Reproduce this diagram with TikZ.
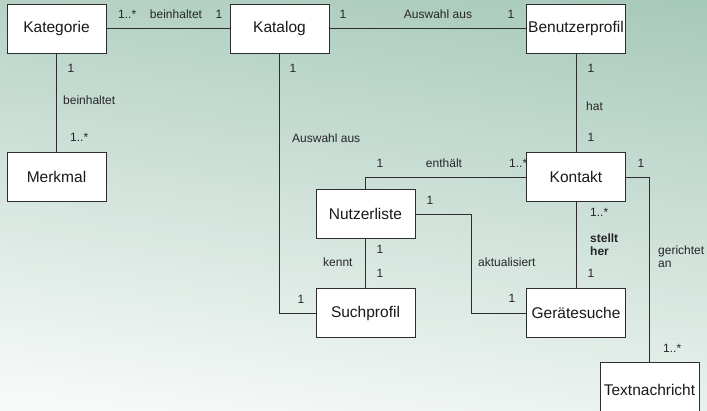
\documentclass[tikz,border=0pt]{standalone}
\usepackage{fontspec}
\setmainfont{Liberation Sans}
\usetikzlibrary{positioning}
\definecolor{bgtop}{RGB}{168,202,187}
\definecolor{bgbot}{RGB}{248,250,249}
\definecolor{edge}{RGB}{45,45,45}
\tikzset{
  cls/.style={draw=edge, line width=0.9pt, fill=white, minimum width=99pt, minimum height=49pt,
              inner sep=0pt, font=\fontsize{15.5}{17}\selectfont, text=black!90},
  assoc/.style={draw=edge, line width=0.9pt},
  lbl/.style={inner sep=0pt, font=\fontsize{12}{13}\selectfont, text=black!85},
  lblw/.style={lbl, anchor=west},
}
\begin{document}
\begin{tikzpicture}[x=1pt, y=-1pt]
  % background
  \useasboundingbox (0,0) rectangle (707,411);
  \shade[top color=bgtop, bottom color=bgbot, shading angle=-8] (-20,-20) rectangle (727,431);

  \begin{scope}
  \clip (0,0) rectangle (707,411);
  % classes
  \node[cls] (kat)  at (56.5,28.5)  {Kategorie};
  \node[cls] (katl) at (279.5,28.5) {Katalog};
  \node[cls] (bp)   at (576,28.5)   {Benutzerprofil};
  \node[cls] (mm)   at (56.5,177)   {Merkmal};
  \node[cls] (nl)   at (365.5,214)  {Nutzerliste};
  \node[cls] (sp)   at (365.5,313)  {Suchprofil};
  \node[cls] (ko)   at (576,177)    {Kontakt};
  \node[cls] (gs)   at (576,313)    {Gerätesuche};
  \node[cls, minimum height=56pt] (tn) at (649.5,390) {Textnachricht};

  % associations
  \coordinate (akt) at (471,214);
  \draw[assoc] (kat.east) -- (katl.west);
  \draw[assoc] (katl.east) -- (bp.west);
  \draw[assoc] (kat.south) -- (mm.north);
  \draw[assoc] (katl.south) |- (sp.west);
  \draw[assoc] (bp.south) -- (ko.north);
  \draw[assoc] (ko.west) -| (nl.north);
  \draw[assoc] (nl.south) -- (sp.north);
  \draw[assoc] (nl.east) -- (akt) |- (gs.west);
  \draw[assoc] (ko.south) -- (gs.north);
  \draw[assoc] (ko.east) -| (tn.north);
  \end{scope}

  % labels: Kategorie -- Katalog
  \node[lblw] (l1) at (118,14) {1..*};
  \node[lbl]  (l2) at (176,14) {beinhaltet};
  \node[lbl]  (l3) at (219,14) {1};
  % Katalog -- Benutzerprofil
  \node[lbl]  (l4) at (343,14) {1};
  \node[lbl]  (l5) at (438,14) {Auswahl aus};
  \node[lbl]  (l6) at (511,14) {1};
  % Kategorie -- Merkmal
  \node[lbl]  (l7) at (71,68) {1};
  \node[lblw] (l8) at (63,100) {beinhaltet};
  \node[lblw] (l9) at (70,137) {1..*};
  % Katalog -- Suchprofil
  \node[lbl]  (l10) at (293,68) {1};
  \node[lblw] (l11) at (292,138) {Auswahl aus};
  \node[lbl]  (l12) at (301,299) {1};
  % Benutzerprofil -- Kontakt
  \node[lbl]  (l13) at (591,68) {1};
  \node[lblw] (l14) at (586,106) {hat};
  \node[lbl]  (l15) at (591,137) {1};
  % Kontakt -- Nutzerliste
  \node[lbl]  (l16) at (380,163) {1};
  \node[lbl]  (l17) at (444,163) {enthält};
  \node[lblw] (l18) at (509,163) {1..*};
  % Kontakt -- Textnachricht
  \node[lbl]  (l19) at (641,163) {1};
  \node[lblw, align=left] (l20) at (658,256.5) {gerichtet\\an};
  \node[lblw] (l21) at (663,348) {1..*};
  % Nutzerliste -- Gerätesuche
  \node[lbl]  (l22) at (430,200) {1};
  \node[lblw] (l23) at (478,262) {aktualisiert};
  \node[lbl]  (l24) at (512,298) {1};
  % Nutzerliste -- Suchprofil
  \node[lbl]  (l25) at (380,249) {1};
  \node[lbl]  (l26) at (380,273) {1};
  \node[lblw] (l27) at (323,262) {kennt};
  % Kontakt -- Gerätesuche
  \node[lblw] (l28) at (590,212) {1..*};
  \node[lblw, align=left, font=\fontsize{12}{13}\selectfont\bfseries] (l29) at (590,244.5) {stellt\\her};
  \node[lbl]  (l30) at (591,273) {1};
\end{tikzpicture}
\end{document}
